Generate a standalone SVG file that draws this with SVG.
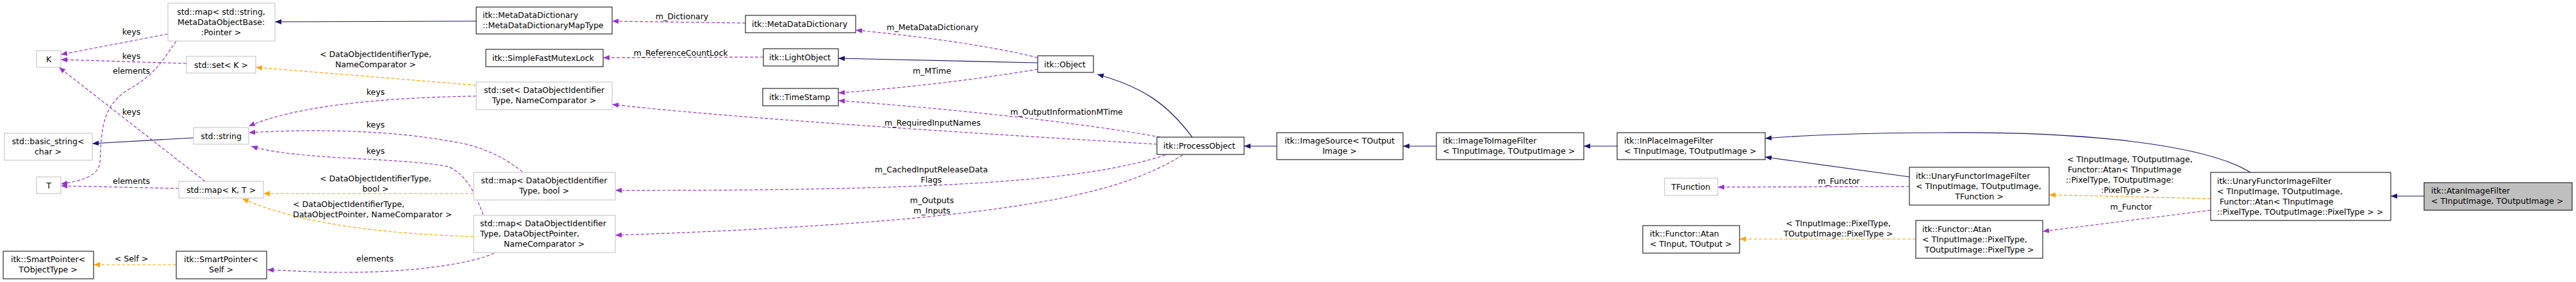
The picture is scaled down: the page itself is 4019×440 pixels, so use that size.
<svg xmlns="http://www.w3.org/2000/svg" width="4019" height="440" viewBox="0 0 4019 440">
<style>
text{font-family:"DejaVu Sans","Liberation Sans",sans-serif;font-size:12.5px;fill:#000}
.c{text-anchor:middle}
.nb{fill:#fff;stroke:#000;stroke-width:1}
.ng{fill:#fff;stroke:#bfbfbf;stroke-width:1}
.nf{fill:#bfbfbf;stroke:#000;stroke-width:1}
.inh{fill:none;stroke:#191970;stroke-width:1.2;marker-end:url(#an)}
.use{fill:none;stroke:#9a32cd;stroke-width:1.2;stroke-dasharray:5,3;marker-end:url(#ap)}
.tpl{fill:none;stroke:#ffa500;stroke-width:1.2;stroke-dasharray:5,3;marker-end:url(#ao)}
</style>
<defs>
<marker id="an" markerWidth="10" markerHeight="8" refX="10" refY="4" orient="auto" markerUnits="userSpaceOnUse"><path d="M0,0 L10,4 L0,8 z" fill="#191970"/></marker>
<marker id="ap" markerWidth="10" markerHeight="8" refX="10" refY="4" orient="auto" markerUnits="userSpaceOnUse"><path d="M0,0 L10,4 L0,8 z" fill="#9a32cd"/></marker>
<marker id="ao" markerWidth="10" markerHeight="8" refX="10" refY="4" orient="auto" markerUnits="userSpaceOnUse"><path d="M0,0 L10,4 L0,8 z" fill="#ffa500"/></marker>
</defs>
<rect width="4019" height="440" fill="#fff"/>
<g id="edges">
<path class="inh" d="M743,33 L429,34"/>
<path class="use" d="M1163,36 L955,33"/><text class="c" x="1064" y="30">m_Dictionary</text>
<path class="use" d="M1619,90 C1540,70 1420,55 1335,47"/><text class="c" x="1455" y="47">m_MetaDataDictionary</text>
<path class="inh" d="M1619,98 L1308,91"/>
<path class="use" d="M1191,89 L941,90"/><text class="c" x="1062" y="87">m_ReferenceCountLock</text>
<path class="use" d="M1619,108 C1520,125 1400,138 1308,145"/><text class="c" x="1454" y="115">m_MTime</text>
<path class="use" d="M1810,214 C1650,185 1420,165 1308,157"/><text class="c" x="1664" y="179">m_OutputInformationMTime</text>
<path class="inh" d="M1860,214 C1820,160 1780,135 1712,116"/>
<path class="use" d="M1805,225 C1550,210 1150,185 955,163"/><text class="c" x="1455" y="196">m_RequiredInputNames</text>
<path class="use" d="M1818,242 C1700,280 1500,298 960,297"/><text class="c" x="1453" y="269">m_CachedInputReleaseData</text><text class="c" x="1453" y="285">Flags</text>
<path class="use" d="M1845,242 C1750,300 1600,345 960,367"/><text class="c" x="1454" y="317">m_Outputs</text><text class="c" x="1454" y="333">m_Inputs</text>
<path class="inh" d="M1992,228 L1941,228"/>
<path class="inh" d="M2241,228 L2189,228"/>
<path class="inh" d="M2523,228 L2754,228" style="display:none"/>
<path class="inh" d="M2523,228 L2471,228"/>
<path class="inh" d="M2979,276 L2754,245"/>
<path class="inh" d="M3511,269 C3440,225 3250,205 3030,207 C2900,207 2800,212 2754,216"/>
<path class="use" d="M2979,291 L2680,292"/><text class="c" x="2869" y="287">m_Functor</text>
<path class="tpl" d="M3449,310 L3197,304"/>
<text x="3225" y="253">&lt; TInputImage, TOutputImage,</text><text x="3226" y="269">Functor::Atan&lt; TInputImage</text><text x="3223" y="285">::PixelType, TOutputImage:</text><text x="3278" y="301">:PixelType &gt; &gt;</text>
<path class="use" d="M3449,328 L3187,361"/><text class="c" x="3325" y="327">m_Functor</text>
<path class="tpl" d="M2989,373 L2714,373"/><text class="c" x="2868" y="353">&lt; TInputImage::PixelType,</text><text class="c" x="2868" y="369">TOutputImage::PixelType &gt;</text>
<path class="inh" d="M3782,306 L3730,306"/>
<path class="use" d="M262,53 L95,85"/><text class="c" x="205" y="54">keys</text>
<path class="use" d="M275,64 C250,100 240,117 200,140 C160,165 158,200 156,253 C154,275 125,283 95,287"/><text class="c" x="205" y="115">elements</text>
<path class="use" d="M291,99 L95,93"/><text class="c" x="205" y="92">keys</text>
<path class="use" d="M320,283 L92,105"/><text class="c" x="205" y="179">keys</text>
<path class="use" d="M279,294 L95,290"/><text class="c" x="205" y="287">elements</text>
<path class="inh" d="M302,215 L144,224"/>
<path class="tpl" d="M743,133 L399,105"/><text class="c" x="586" y="89">&lt; DataObjectIdentifierType,</text><text class="c" x="586" y="105">NameComparator &gt;</text>
<path class="use" d="M743,150 C600,152 460,165 388,197"/><text class="c" x="586" y="148">keys</text>
<path class="use" d="M815,268 C780,240 740,225 700,220 C620,205 500,200 388,207"/><text class="c" x="586" y="199">keys</text>
<path class="use" d="M754,335 C740,300 730,275 700,260 C620,245 460,250 392,228"/><text class="c" x="586" y="240">keys</text>
<path class="tpl" d="M739,302 L411,302"/><text class="c" x="586" y="283">&lt; DataObjectIdentifierType,</text><text class="c" x="586" y="299">bool &gt;</text>
<path class="tpl" d="M739,369 C600,365 470,350 378,310"/><text x="457" y="323">&lt; DataObjectIdentifierType,</text><text x="457" y="339">DataObjectPointer, NameComparator &gt;</text>
<path class="use" d="M771,395 C740,410 650,425 536,425 C490,425 450,422 417,421"/><text class="c" x="585" y="408">elements</text>
<path class="tpl" d="M275,413 L146,413"/><text class="c" x="205" y="408">&lt; Self &gt;</text>
</g>
<g id="n_map_string"><rect class="ng" x="262" y="5" width="167" height="59"/><text class="c" x="345" y="23">std::map&lt; std::string,</text><text class="c" x="345" y="39">MetaDataObjectBase:</text><text class="c" x="345" y="55">:Pointer &gt;</text></g>
<g id="n_K"><rect class="ng" x="57" y="79" width="38" height="26"/><text class="c" x="76" y="97">K</text></g>
<g id="n_set_K"><rect class="ng" x="291" y="88" width="108" height="26"/><text class="c" x="345" y="106">std::set&lt; K &gt;</text></g>
<g id="n_string"><rect class="ng" x="302" y="199" width="86" height="26"/><text class="c" x="345" y="217">std::string</text></g>
<g id="n_basic_string"><rect class="ng" x="7" y="208" width="137" height="42"/><text class="c" x="75" y="225">std::basic_string&lt;</text><text class="c" x="75" y="241">char &gt;</text></g>
<g id="n_T"><rect class="ng" x="57" y="276" width="38" height="26"/><text class="c" x="76" y="294">T</text></g>
<g id="n_map_KT"><rect class="ng" x="279" y="283" width="132" height="26"/><text class="c" x="345" y="301">std::map&lt; K, T &gt;</text></g>
<g id="n_sp_TObj"><rect class="nb" x="5" y="392" width="141" height="43"/><text class="c" x="75" y="409">itk::SmartPointer&lt;</text><text class="c" x="75" y="425">TObjectType &gt;</text></g>
<g id="n_sp_Self"><rect class="nb" x="275" y="392" width="141" height="43"/><text class="c" x="345" y="409">itk::SmartPointer&lt;</text><text class="c" x="345" y="425">Self &gt;</text></g>
<g id="n_mapType"><rect class="nb" x="743" y="11" width="212" height="42"/><text x="753" y="28">itk::MetaDataDictionary</text><text x="753" y="44">::MetaDataDictionaryMapType</text></g>
<g id="n_mdd"><rect class="nb" x="1163" y="24" width="172" height="27"/><text x="1173" y="42">itk::MetaDataDictionary</text></g>
<g id="n_mutex"><rect class="nb" x="758" y="77" width="183" height="27"/><text x="768" y="95">itk::SimpleFastMutexLock</text></g>
<g id="n_light"><rect class="nb" x="1191" y="76" width="117" height="27"/><text x="1200" y="94">itk::LightObject</text></g>
<g id="n_ts"><rect class="nb" x="1190" y="138" width="118" height="27"/><text x="1200" y="156">itk::TimeStamp</text></g>
<g id="n_set_doit"><rect class="ng" x="743" y="128" width="212" height="43"/><text class="c" x="849" y="145">std::set&lt; DataObjectIdentifier</text><text class="c" x="849" y="161">Type, NameComparator &gt;</text></g>
<g id="n_map_bool"><rect class="ng" x="739" y="269" width="221" height="43"/><text class="c" x="849" y="286">std::map&lt; DataObjectIdentifier</text><text class="c" x="849" y="302">Type, bool &gt;</text></g>
<g id="n_map_dop"><rect class="ng" x="739" y="336" width="221" height="58"/><text x="749" y="353">std::map&lt; DataObjectIdentifier</text><text x="749" y="369">Type, DataObjectPointer,</text><text class="c" x="849" y="385">NameComparator &gt;</text></g>
<g id="n_object"><rect class="nb" x="1619" y="87" width="87" height="26"/><text x="1629" y="105">itk::Object</text></g>
<g id="n_po"><rect class="nb" x="1805" y="214" width="136" height="27"/><text x="1815" y="232">itk::ProcessObject</text></g>
<g id="n_is"><rect class="nb" x="1992" y="207" width="197" height="42"/><text class="c" x="2090" y="224">itk::ImageSource&lt; TOutput</text><text class="c" x="2090" y="240">Image &gt;</text></g>
<g id="n_iif"><rect class="nb" x="2241" y="207" width="230" height="42"/><text x="2251" y="224">itk::ImageToImageFilter</text><text x="2251" y="240">&lt; TInputImage, TOutputImage &gt;</text></g>
<g id="n_inplace"><rect class="nb" x="2523" y="207" width="231" height="42"/><text x="2534" y="224">itk::InPlaceImageFilter</text><text x="2534" y="240">&lt; TInputImage, TOutputImage &gt;</text></g>
<g id="n_tfunc"><rect class="ng" x="2597" y="278" width="83" height="27"/><text class="c" x="2638" y="296">TFunction</text></g>
<g id="n_atan_tt"><rect class="nb" x="2563" y="352" width="151" height="43"/><text x="2574" y="369">itk::Functor::Atan</text><text x="2574" y="385">&lt; TInput, TOutput &gt;</text></g>
<g id="n_unary_tf"><rect class="nb" x="2979" y="261" width="218" height="59"/><text x="2989" y="279">itk::UnaryFunctorImageFilter</text><text x="2989" y="295">&lt; TInputImage, TOutputImage,</text><text class="c" x="3088" y="311">TFunction &gt;</text></g>
<g id="n_atan_px"><rect class="nb" x="2989" y="344" width="198" height="59"/><text x="2999" y="362">itk::Functor::Atan</text><text x="2999" y="378">&lt; TInputImage::PixelType,</text><text class="c" x="3088" y="394">TOutputImage::PixelType &gt;</text></g>
<g id="n_unary_atan"><rect class="nb" x="3449" y="269" width="281" height="75"/><text x="3459" y="287">itk::UnaryFunctorImageFilter</text><text x="3459" y="303">&lt; TInputImage, TOutputImage,</text><text x="3463" y="319">Functor::Atan&lt; TInputImage</text><text x="3459" y="335">::PixelType, TOutputImage::PixelType &gt; &gt;</text></g>
<g id="n_atanfilter"><rect class="nf" x="3782" y="285" width="231" height="43"/><text x="3793" y="302">itk::AtanImageFilter</text><text x="3793" y="318">&lt; TInputImage, TOutputImage &gt;</text></g>
</svg>
